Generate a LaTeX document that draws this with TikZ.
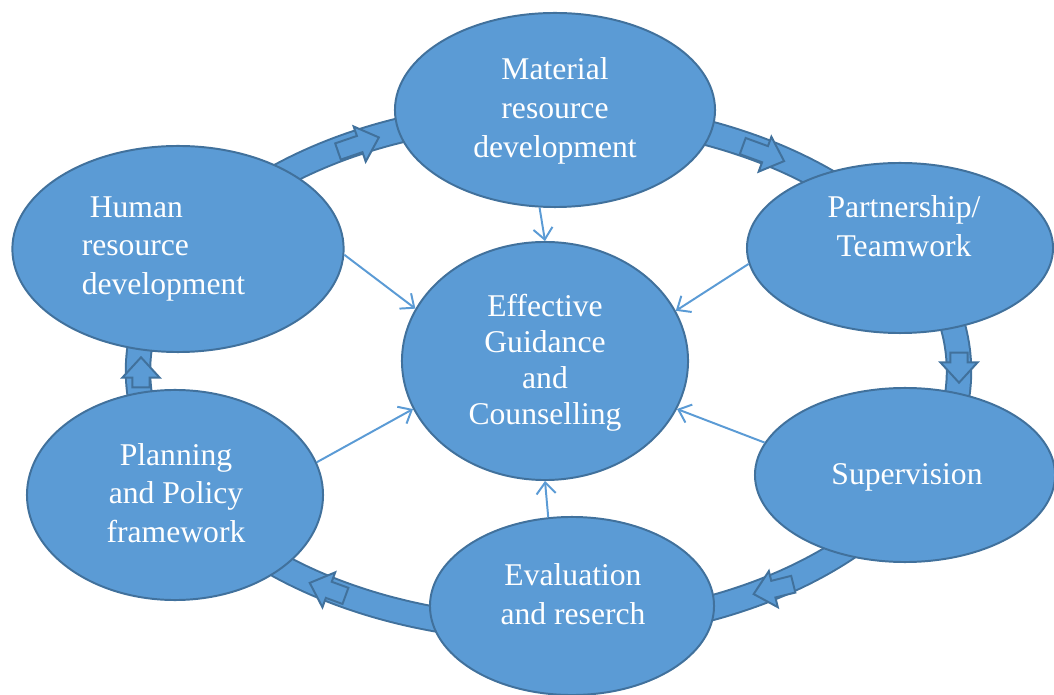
\documentclass[tikz,border=0pt]{standalone}
\usepackage{fontspec}
\setmainfont{Liberation Serif}
\usetikzlibrary{arrows.meta, shapes.geometric, shapes.arrows}
\definecolor{cblue}{HTML}{5B9BD5}
\definecolor{cedge}{HTML}{41719C}
\tikzset{
  blob/.style={ellipse, draw=cedge, fill=cblue, line width=1.4pt, inner sep=0pt},
  txt/.style={text=white, align=center, font=\fontsize{22.5}{27.5}\selectfont, inner sep=0pt},
  link/.style={-{Straight Barb[length=2.8mm, width=4.8mm]}, draw=cblue, line width=1.4pt},
  ringarrow/.style={single arrow, draw=cedge, fill=cblue, line width=1.4pt, inner xsep=0pt, inner ysep=0.19cm,
    single arrow head extend=0.25cm, single arrow tip angle=85, minimum height=#1},
  ringarrow/.default=1cm,
}

\begin{document}
\begin{tikzpicture}[x=0.025cm, y=-0.025cm]
  \useasboundingbox (0,0) rectangle (1054,695);
  % the cycle band
  \coordinate (ring) at (548.5,371);
  \draw[cedge, line width=0.66cm] (ring) ellipse [x radius=10.26cm, y radius=6.45cm];
  \draw[cblue, line width=0.56cm] (ring) ellipse [x radius=10.26cm, y radius=6.45cm];
  % arrows riding on the band
  \foreach \n/\x/\y/\r/\l in {ra1/354/146/19/1.08cm, ra2/759/152/-20/1.1cm, ra3/959/363/-90/0.75cm,
      ra4/778/588/194/1.02cm, ra5/332/591/160/0.95cm, ra6/141/377/90/0.75cm}
    \node[ringarrow=\l, rotate=\r] (\n) at (\x,\y) {};
  % the six areas and the centre
  \foreach \n/\x/\y/\w/\h in {mat/555/110/8/4.85, hum/178/249/8.28/5.15, part/900/248/7.65/4.25,
      sup/905/475/7.5/4.35, plan/175/495/7.4/5.25, eval/572/606/7.1/4.45, gc/545/361/7.15/5.95}
    \node[blob, minimum width=\w cm, minimum height=\h cm] (\n) at (\x,\y) {};
  \foreach \n/\x/\y/\t in {mat/555/111/{Material\\resource\\development}, part/904/226/{Partnership/\\Teamwork},
      sup/907/477/{Supervision}, plan/176/493/{Planning\\and Policy\\framework}, eval/573/594/{Evaluation\\and reserch}}
    \node[txt] (\n-t) at (\x,\y) {\t};
  \node[txt, align=left] (hum-t) at (163.5,249) {\hspace*{0.2cm}Human\\resource\\development};
  \node[txt, font=\fontsize{22.5}{25.5}\selectfont] (gc-t) at (545,363) {Effective\\Guidance\\and\\Counselling};
  % everything feeds the centre
  \foreach \a/\b in {mat.-99/gc.north, hum.-2/gc.158, part.186/gc.21, plan.13/gc.200, sup.167/gc.-20, eval.105/gc.south}
    \draw[link] (\a) -- (\b);
\end{tikzpicture}
\end{document}
